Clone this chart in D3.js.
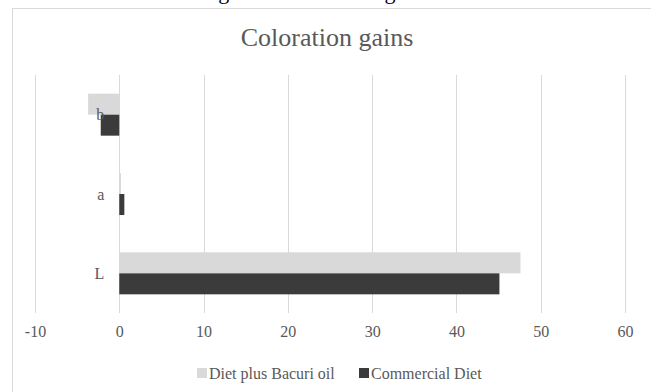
<!DOCTYPE html>
<html><head><meta charset="utf-8">
<script src="https://cdn.jsdelivr.net/npm/d3@7"></script>
<style>html,body{margin:0;padding:0;background:#fff;overflow:hidden}</style>
</head><body>
<script>
const categories = ["b", "a", "L"];
const seriesNames = ["Diet plus Bacuri oil", "Commercial Diet"];
const bacuriValues = [-3.7, 0.2, 47.6];
const commercialValues = [-2.2, 0.6, 45.1];
const tickValues = [-10, 0, 10, 20, 30, 40, 50, 60];
const colors = ["#d9d9d9", "#3b3b3b"];
const chartTitle = "Coloration gains";
const captionText = "Figure 1. Coloration gains of the fish";

const W = 651, H = 392;
const svg = d3.select("body").append("svg").attr("width", W).attr("height", H);
const serif = "'Liberation Serif','Times New Roman',serif";

svg.append("text").attr("x", 200).attr("y", -1).attr("font-family", serif)
  .attr("font-size", 22).attr("fill", "#000").text(captionText);

svg.append("rect").attr("x", 12.5).attr("y", 8.5).attr("width", 700).attr("height", 500)
  .attr("fill", "#fff").attr("stroke", "#d9d9d9");

svg.append("text").attr("x", 327).attr("y", 46).attr("text-anchor", "middle")
  .attr("font-family", serif).attr("font-size", 26).attr("fill", "#595959").text(chartTitle);

const x = d3.scaleLinear().domain([-10, 60]).range([35, 625]);
const y = d3.scaleBand().domain(categories).range([75, 313]);
const barH = 21;

const grid = svg.append("g");
grid.selectAll("line").data(tickValues).join("line")
  .attr("x1", d => Math.round(x(d)) + 0.5).attr("x2", d => Math.round(x(d)) + 0.5)
  .attr("y1", 75).attr("y2", 313).attr("stroke", "#d9d9d9").attr("stroke-width", 1);

const xAxis = svg.append("g").attr("transform", "translate(0,313)")
  .call(d3.axisBottom(x).tickValues(tickValues).tickSize(0).tickPadding(13).tickFormat(d => String(d)));
xAxis.select(".domain").remove();
xAxis.selectAll("text").attr("font-family", serif).attr("font-size", 16).attr("fill", "#595959");

const series = [bacuriValues, commercialValues];
series.forEach((vals, si) => {
  svg.append("g").selectAll("rect").data(categories).join("rect")
    .attr("x", (c, i) => x(Math.min(0, vals[i])))
    .attr("width", (c, i) => Math.abs(x(vals[i]) - x(0)))
    .attr("y", c => y(c) + y.bandwidth() / 2 - barH + si * barH)
    .attr("height", barH)
    .attr("fill", colors[si]);
});

svg.append("g").selectAll("text").data(categories).join("text")
  .attr("x", x(0) - 15).attr("y", c => y(c) + y.bandwidth() / 2)
  .attr("dy", "0.35em").attr("text-anchor", "end")
  .attr("font-family", serif).attr("font-size", 16).attr("fill", "#595959").text(c => c);

const legendX = [197, 359];
const lg = svg.append("g");
seriesNames.forEach((n, i) => {
  lg.append("rect").attr("x", legendX[i]).attr("y", 368).attr("width", 10).attr("height", 10).attr("fill", colors[i]);
  lg.append("text").attr("x", legendX[i] + 12).attr("y", 378.5)
    .attr("font-family", serif).attr("font-size", 16).attr("fill", "#595959").text(n);
});
</script>
</body></html>
